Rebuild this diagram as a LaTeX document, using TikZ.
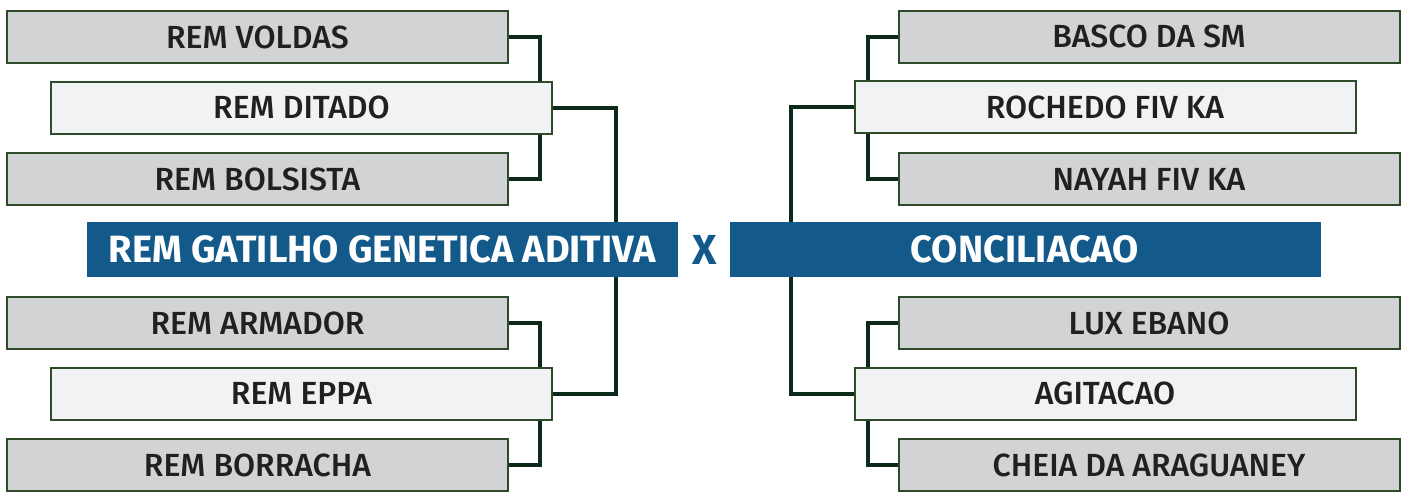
\documentclass[tikz,border=0pt]{standalone}
\usepackage{fontspec}
\setmainfont{Fira Sans}
\newfontfamily\horsefont{Fira Sans}[UprightFont=* Medium]
\newfontfamily\headfont{Fira Sans}
\usepackage{xcolor}
\usetikzlibrary{positioning,calc}
\definecolor{horsegray}{HTML}{D1D3D4}
\definecolor{sirelight}{HTML}{F1F2F3}
\definecolor{boxline}{HTML}{2F4A28}
\definecolor{linkgreen}{HTML}{0B2A1A}
\definecolor{champblue}{HTML}{135A8A}
\definecolor{ink}{HTML}{231F20}

\begin{document}
\begin{tikzpicture}[x=0.5pt,y=-0.5pt,
  horse/.style={draw=boxline,line width=1pt,fill=horsegray,minimum width=250.5pt,minimum height=26pt,inner sep=0pt,text=ink,font=\horsefont\fontsize{16}{16}\selectfont},
  sire/.style={horse,fill=sirelight},
  champ/.style={fill=champblue,minimum width=295.5pt,minimum height=27.5pt,inner sep=0pt,text=white,font=\headfont\bfseries\fontsize{19}{19}\selectfont},
  link/.style={draw=linkgreen,line width=2pt}]
\useasboundingbox (0,0) rectangle (1407,493);

\node[horse] (voldas) at (257.5,37) {REM VOLDAS};
\node[sire] (ditado) at (301.5,107.5) {REM DITADO};
\node[horse] (bolsista) at (257.5,179) {REM BOLSISTA};
\node[champ] (gatilho) at (382.5,249.5) {REM GATILHO GENETICA ADITIVA};
\node[horse] (armador) at (257.5,323) {REM ARMADOR};
\node[sire] (eppa) at (301.5,393.5) {REM EPPA};
\node[horse] (borracha) at (257.5,465) {REM BORRACHA};

\node[text=champblue,font=\headfont\bfseries\fontsize{21}{21}\selectfont] (vs) at (704.5,250) {X};

\node[horse] (basco) at (1149,36.5) {BASCO DA SM};
\node[sire] (rochedo) at (1105,107) {ROCHEDO FIV KA};
\node[horse] (nayah) at (1149,179) {NAYAH FIV KA};
\node[champ] (conciliacao) at (1025,249.5) {CONCILIACAO};
\node[horse] (lux) at (1149,323) {LUX EBANO};
\node[sire] (agitacao) at (1105,393.5) {AGITACAO};
\node[horse] (cheia) at (1149,465) {CHEIA DA ARAGUANEY};

\coordinate (lspine) at (540,0);
\coordinate (lroot) at (616,0);
\coordinate (rspine) at (868,0);
\coordinate (rroot) at (791,0);

% left bracket
\draw[link] (voldas.east) -| (lspine |- ditado.north);
\draw[link] (ditado.south -| lspine) |- (bolsista.east);
\draw[link] (ditado.east) -| (lroot |- gatilho.north);
\draw[link] (gatilho.south -| lroot) |- (eppa.east);
\draw[link] (armador.east) -| (lspine |- eppa.north);
\draw[link] (eppa.south -| lspine) |- (borracha.east);

% right bracket
\draw[link] (basco.west) -| (rspine |- rochedo.north);
\draw[link] (rochedo.south -| rspine) |- (nayah.west);
\draw[link] (rochedo.west) -| (rroot |- conciliacao.north);
\draw[link] (conciliacao.south -| rroot) |- (agitacao.west);
\draw[link] (lux.west) -| (rspine |- agitacao.north);
\draw[link] (agitacao.south -| rspine) |- (cheia.west);
\end{tikzpicture}
\end{document}
